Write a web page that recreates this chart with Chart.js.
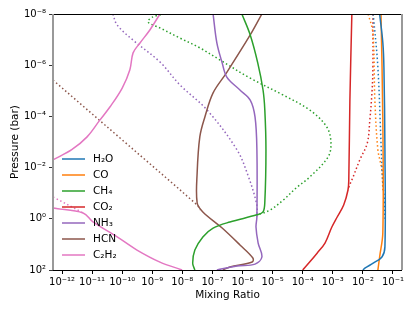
<!DOCTYPE html>
<html>
<head>
<meta charset="utf-8">
<script src="https://cdn.jsdelivr.net/npm/chart.js@4.4.1/dist/chart.umd.min.js"></script>
<style>
  body { margin: 0; background: #fff; }
  #chart { display: block; }
</style>
</head>
<body>
<canvas id="chart" width="415" height="311"></canvas>
<script>
/* species names and colours (legend order) */
var species = ['H\u2082O', 'CO', 'CH\u2084', 'CO\u2082', 'NH\u2083', 'HCN', 'C\u2082H\u2082'];
var colors = ['#1f77b4', '#ff7f0e', '#2ca02c', '#d62728', '#9467bd', '#8c564b', '#e377c2'];

/* tick values */
var xTicks = [1e-12, 1e-11, 1e-10, 1e-9, 1e-8, 1e-7, 1e-6, 1e-5, 1e-4, 1e-3, 1e-2, 1e-1];
var yTicks = [1e-8, 1e-6, 1e-4, 1e-2, 1e0, 1e2];

/* profiles: [mixing ratio, pressure (bar)] - solid and dotted */
var h2o = [[3.6e-2, 1e-8], [4.6e-2, 1.3e-7], [5e-2, 1.2e-6], [5.4e-2, 2e-3], [5.4e-2, 12.5], [4.3e-2, 31], [2.2e-2, 54], [1.2e-2, 83], [1e-2, 100]];
var h2oDot = [[2.2e-2, 1e-8], [3.15e-2, 1.2e-6], [4e-2, 1.1e-3], [4.3e-2, 9.5e-3], [4.6e-2, 4e-2], [5.2e-2, 0.2], [5.4e-2, 1]];

var co = [[4e-2, 1e-8], [4.6e-2, 1.4e-4], [4.6e-2, 3.5], [3.6e-2, 31], [3.15e-2, 100]];
var coDot = [[1.5e-2, 1e-8], [2.15e-2, 5.5e-8], [2.5e-2, 2.3e-5], [3.15e-2, 2e-3], [4.25e-2, 1.2e-2], [4.6e-2, 7.5e-2]];

var ch4 = [[9.5e-7, 1e-8], [1.8e-6, 6.6e-8], [3.2e-6, 8.1e-7], [4.8e-6, 9.3e-6], [5.5e-6, 5.6e-5], [6e-6, 2e-3], [5.5e-6, 0.22],
  [4.8e-6, 0.54], [3e-6, 0.7], [3.8e-7, 1.33], [1.05e-7, 2.3], [4.8e-8, 5.1], [2.6e-8, 16.6], [2.2e-8, 54], [2.6e-8, 100]];
var ch4Dot = [[2.6e-9, 1e-8], [1.05e-9, 1.3e-8], [7.2e-10, 2.05e-8], [1.8e-9, 3.5e-8], [8.3e-9, 8.7e-8], [3.8e-8, 2.1e-7],
  [1.8e-7, 6.3e-7], [1.8e-6, 3.2e-6], [2.2e-5, 1.45e-5], [1.7e-4, 5.6e-5], [6.3e-4, 2.6e-4], [8.7e-4, 1.1e-3], [6.9e-4, 3.9e-3],
  [1.7e-4, 2.35e-2], [6.5e-5, 5.8e-2], [2.2e-5, 0.19], [8.1e-6, 0.46], [3.8e-6, 0.65], [3e-6, 0.7]];

var co2 = [[4.3e-3, 1e-8], [3.7e-3, 2.3e-5], [3.4e-3, 3e-2], [3.2e-3, 7.5e-2], [2.3e-3, 0.29], [1.4e-3, 0.85], [9.3e-4, 2.1],
  [5.5e-4, 8.9], [3e-4, 22], [1.7e-4, 49], [1e-4, 100]];
var co2Dot = [[2.15e-2, 1e-8], [2.15e-2, 1.5e-6], [2e-2, 1.2e-5], [1.7e-2, 1.4e-4], [1.4e-2, 1.1e-3], [7.9e-3, 5e-3],
  [4.7e-3, 2.35e-2], [3.4e-3, 5.8e-2], [3.2e-3, 7.5e-2]];

var nh3 = [[1.05e-7, 1e-8], [1.4e-7, 1.35e-7], [2.1e-7, 8.1e-7], [3e-7, 2.9e-6], [8.2e-7, 9.3e-6], [1.8e-6, 2.3e-5], [2.6e-6, 1.05e-4],
  [3e-6, 2e-3], [3e-6, 0.85], [2.8e-6, 2.1], [3.3e-6, 8.9], [4.4e-6, 31], [2.6e-6, 59], [6.5e-7, 70], [1.4e-7, 100]];
var nh3Dot = [[4.9e-11, 1e-8], [6.8e-11, 2.7e-8], [2.3e-10, 1.05e-7], [1.8e-9, 7.5e-7], [8.3e-9, 5.9e-6], [6.6e-8, 5.6e-5],
  [6.5e-7, 2e-3], [1.5e-6, 1.95e-2], [3e-6, 0.29], [3e-6, 0.85]];

var hcn = [[4.4e-6, 1e-8], [1.8e-6, 6.6e-8], [3e-7, 1.9e-6], [1.05e-7, 1.2e-5], [5.6e-8, 1.05e-4], [3.8e-8, 6.3e-4], [3.1e-8, 1.6e-2],
  [3.1e-8, 0.24], [4.8e-8, 0.54], [2.1e-7, 2.3], [8.2e-7, 10.5], [2.2e-6, 34], [2.1e-6, 49], [3.8e-7, 76], [2.2e-7, 100]];
var hcnDot = [[1e-13, 7.2e-7], [5e-13, 3.8e-6], [1e-10, 8.3e-4], [3.1e-8, 0.29], [4e-8, 0.45]];

var c2h2 = [[1.8e-9, 1e-8], [8.3e-10, 4.2e-8], [3.9e-10, 1.35e-7], [2.3e-10, 3.3e-7], [1.8e-10, 1.5e-6], [1e-10, 7.8e-6],
  [3.9e-11, 4.3e-5], [1.8e-11, 1.4e-4], [6.8e-12, 6.3e-4], [2.1e-12, 2e-3], [5e-13, 5e-3], [1e-13, 1.5e-2], [1e-13, 0.25],
  [5e-13, 0.38], [5e-12, 0.59], [1.07e-11, 1.33], [6.8e-11, 5.1], [3.1e-10, 16.6], [1.8e-9, 49], [9.8e-9, 100]];
var c2h2Dot = [[1e-13, 0.055], [5e-13, 0.14], [5e-12, 0.59]];

var solids = [h2o, co, ch4, co2, nh3, hcn, c2h2];
var dots = [h2oDot, coDot, ch4Dot, co2Dot, nh3Dot, hcnDot, c2h2Dot];

var FONT = "'DejaVu Sans', sans-serif";

function toPoints(arr) {
    return arr.map(function(d) { return { x: d[0], y: d[1] }; });
}

var datasets = [];
for (var i = 0; i < species.length; i++) {
    datasets.push({
        label: species[i],
        data: toPoints(solids[i]),
        borderColor: colors[i],
        borderWidth: 1.5,
        showLine: true,
        pointRadius: 0,
        tension: 0.35,
        clip: 0
    });
}
for (var i = 0; i < species.length; i++) {
    datasets.push({
        label: species[i] + ' dotted',
        data: toPoints(dots[i]),
        borderColor: colors[i],
        borderWidth: 1.5,
        borderDash: [1.5, 2.5],
        showLine: true,
        pointRadius: 0,
        tension: 0.35,
        clip: 0
    });
}

/* 10^n labels with superscripts */
var sup = { '-': '\u207b', '0': '\u2070', '1': '\u00b9', '2': '\u00b2', '3': '\u00b3', '4': '\u2074', '5': '\u2075', '6': '\u2076', '7': '\u2077', '8': '\u2078', '9': '\u2079' };
function pow10Label(v) {
    var e = String(Math.round(Math.log10(v)));
    var s = '';
    for (var k = 0; k < e.length; k++) s += sup[e[k]];
    return '10' + s;
}

/* axes frame: gray left/right, black top/bottom */
var framePlugin = {
    id: 'frame',
    afterDraw: function(chart) {
        var a = chart.chartArea, ctx = chart.ctx;
        ctx.save();
        ctx.strokeStyle = '#000';
        ctx.lineWidth = 1;
        ctx.beginPath();
        ctx.moveTo(a.left, a.top + 0.5); ctx.lineTo(a.right, a.top + 0.5);
        ctx.moveTo(a.left, a.bottom + 0.5); ctx.lineTo(a.right, a.bottom + 0.5);
        ctx.stroke();
        ctx.strokeStyle = '#999';
        ctx.lineWidth = 2;
        ctx.beginPath();
        ctx.moveTo(a.left, a.top); ctx.lineTo(a.left, a.bottom);
        ctx.moveTo(a.right, a.top); ctx.lineTo(a.right, a.bottom);
        ctx.stroke();
        ctx.restore();
    }
};

/* legend inside the axes, lower left */
var legendPlugin = {
    id: 'innerLegend',
    afterDraw: function(chart) {
        var a = chart.chartArea, ctx = chart.ctx;
        ctx.save();
        ctx.font = '10.5px ' + FONT;
        ctx.textBaseline = 'middle';
        ctx.fillStyle = '#000';
        for (var i = 0; i < species.length; i++) {
            var y = a.top + 145 + i * 16;
            ctx.strokeStyle = colors[i];
            ctx.lineWidth = 1.5;
            ctx.beginPath();
            ctx.moveTo(a.left + 9, y);
            ctx.lineTo(a.left + 32, y);
            ctx.stroke();
            ctx.fillText(species[i], a.left + 40, y + 0.5);
        }
        ctx.restore();
    }
};

var ctx = document.getElementById('chart').getContext('2d');
var chart = new Chart(ctx, {
    type: 'scatter',
    data: { datasets: datasets },
    options: {
        responsive: false,
        animation: false,
        layout: { padding: { top: 14, right: 13, left: 0, bottom: 0 } },
        plugins: {
            legend: { display: false },
            tooltip: { enabled: false }
        },
        scales: {
            x: {
                type: 'logarithmic',
                min: Math.pow(10, -12.3),
                max: Math.pow(10, -0.7),
                afterBuildTicks: function(s) { s.ticks = xTicks.map(function(v) { return { value: v }; }); },
                afterFit: function(s) { s.height = 41; },
                ticks: {
                    callback: function(v) { return pow10Label(v); },
                    autoSkip: false, maxRotation: 0, padding: 2,
                    color: '#000', font: { family: FONT, size: 10 }
                },
                grid: { drawOnChartArea: false, drawTicks: true, tickLength: 4, color: '#000' },
                border: { display: false },
                title: { display: true, text: 'Mixing Ratio', color: '#000', font: { family: FONT, size: 10.5 }, padding: { bottom: 9 } }
            },
            y: {
                type: 'logarithmic',
                reverse: true,
                min: 1e-8,
                max: 1e2,
                afterBuildTicks: function(s) { s.ticks = yTicks.map(function(v) { return { value: v }; }); },
                afterFit: function(s) { s.width = 53; },
                ticks: {
                    callback: function(v) { return pow10Label(v); },
                    autoSkip: false, padding: 3,
                    color: '#000', font: { family: FONT, size: 10 }
                },
                grid: { drawOnChartArea: false, drawTicks: true, tickLength: 4, color: '#333' },
                border: { display: false },
                title: { display: true, text: 'Pressure (bar)', color: '#000', font: { family: FONT, size: 10.5 }, padding: { top: 9 } }
            }
        }
    },
    plugins: [framePlugin, legendPlugin]
});
</script>
</body>
</html>
